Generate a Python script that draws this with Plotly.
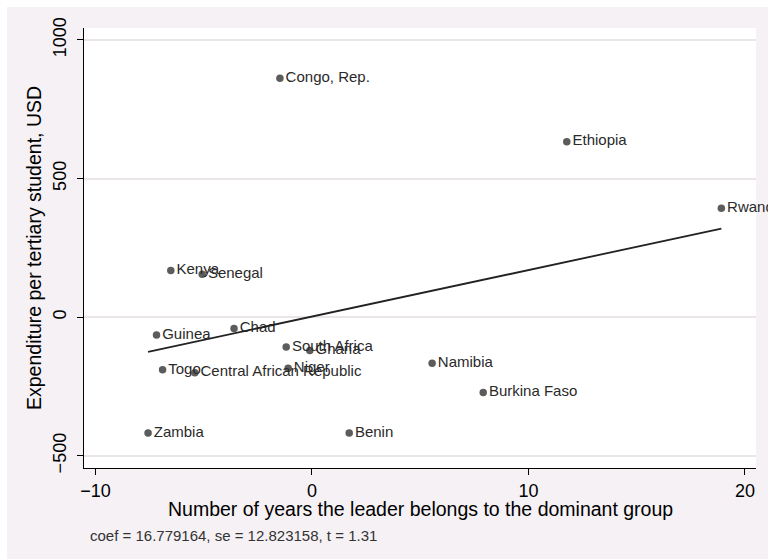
import numpy as np
import plotly.graph_objects as go

# Added-variable data: residualised years in power vs residualised spending
countries = ["Congo, Rep.", "Ethiopia", "Rwanda", "Kenya", "Senegal", "Guinea",
             "Chad", "South Africa", "Ghana", "Togo", "Central African Republic",
             "Niger", "Zambia", "Benin", "Namibia", "Burkina Faso"]
years_resid = [-1.48, 11.77, 18.91, -6.52, -5.07, -7.18,
               -3.60, -1.19, -0.10, -6.90, -5.41,
               -1.10, -7.57, 1.72, 5.55, 7.91]
spend_resid = [862, 633, 393, 168, 155, -64,
               -41, -108, -120, -190, -200,
               -184, -418, -418, -166, -272]

COEF = 16.779164
SE = 12.823158
T_STAT = 1.31

x_ticks = [-10, 0, 10, 20]
y_ticks = [-500, 0, 500, 1000]

xv = np.array(years_resid, dtype=float)
yv = np.array(spend_resid, dtype=float)
intercept = yv.mean() - COEF * xv.mean()
x_line = np.array([xv.min(), xv.max()])
y_line = intercept + COEF * x_line

BG = "#F5F1F5"
FONT = "Liberation Sans, Arial, sans-serif"

fig = go.Figure()
fig.add_trace(go.Scatter(
    x=years_resid, y=spend_resid, mode="markers+text",
    text=countries, textposition="middle right",
    textfont=dict(family=FONT, size=15, color="#2a2a2a"),
    marker=dict(size=7.5, color="#5c5c5c"),
    showlegend=False, cliponaxis=False,
))
fig.add_trace(go.Scatter(
    x=x_line, y=y_line, mode="lines",
    line=dict(color="#222222", width=1.8),
    showlegend=False,
))

L, R, T, B = 84, 12, 28, 91
W, H = 768, 559
pw, ph = W - L - R, H - T - B

def px_x(p):
    return (p - L) / pw

def px_y(p):
    return (H - B - p) / ph

fig.update_layout(
    width=W, height=H,
    margin=dict(l=L, r=R, t=T, b=B),
    paper_bgcolor=BG, plot_bgcolor="white",
    font=dict(family=FONT, color="black"),
    xaxis=dict(
        range=[-10.53, 20.51], tickvals=x_ticks,
        showgrid=False, zeroline=False,
        showline=True, linecolor="black", linewidth=1,
        ticks="outside", ticklen=6, tickcolor="black",
        tickfont=dict(size=18, color="black"),
    ),
    yaxis=dict(
        range=[-544, 1043], tickvals=y_ticks, tickangle=-90,
        ticklabelstandoff=4,
        showgrid=True, gridcolor="#E9E5E9", gridwidth=1.5, zeroline=False,
        showline=True, linecolor="black", linewidth=1,
        ticks="outside", ticklen=6, tickcolor="black",
        tickfont=dict(size=18, color="black"),
    ),
    shapes=[
        dict(type="rect", xref="paper", yref="paper", layer="above",
             x0=px_x(0), x1=px_x(W), y0=px_y(7), y1=px_y(0),
             fillcolor="white", line=dict(width=0)),
        dict(type="rect", xref="paper", yref="paper", layer="above",
             x0=px_x(0), x1=px_x(7), y0=px_y(H), y1=px_y(0),
             fillcolor="white", line=dict(width=0)),
    ],
    annotations=[
        dict(xref="paper", yref="paper", x=0.5, y=px_y(509),
             xanchor="center", yanchor="middle", showarrow=False,
             text="Number of years the leader belongs to the dominant group",
             font=dict(family=FONT, size=19.5, color="black")),
        dict(xref="paper", yref="paper", x=px_x(34), y=0.5, textangle=-90,
             xanchor="center", yanchor="middle", showarrow=False,
             text="Expenditure per tertiary student, USD",
             font=dict(family=FONT, size=19.5, color="black")),
        dict(xref="paper", yref="paper", x=px_x(88), y=px_y(535),
             xanchor="left", yanchor="middle", showarrow=False,
             text=f"coef = {COEF:.6f}, se = {SE:.6f}, t = {T_STAT:.2f}",
             font=dict(family=FONT, size=15, color="#333333")),
    ],
)

fig.write_html("out.html")
